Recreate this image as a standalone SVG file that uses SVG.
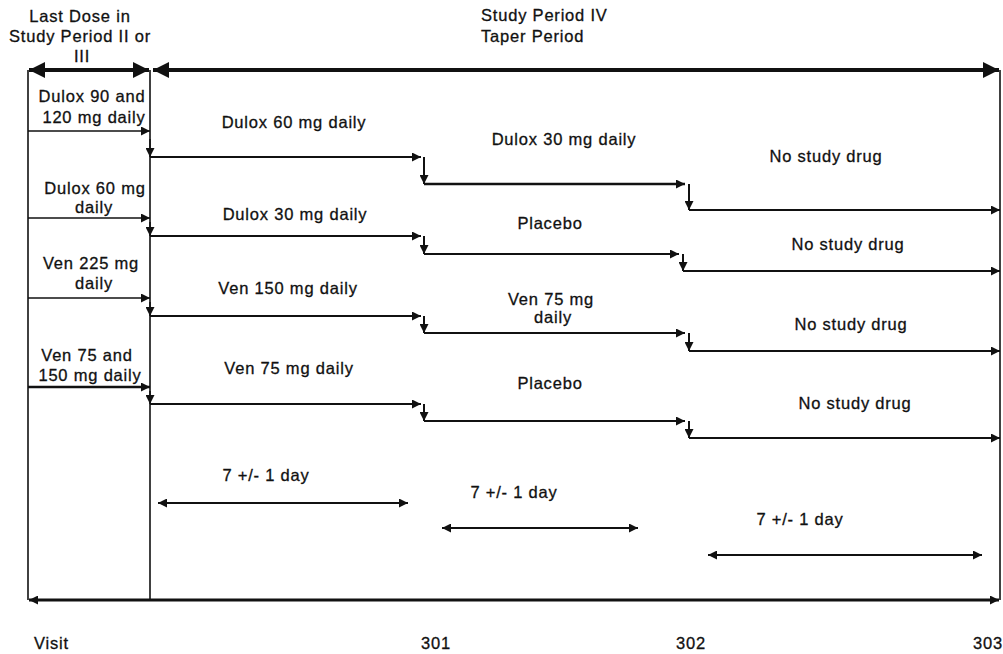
<svg xmlns="http://www.w3.org/2000/svg" width="1003" height="654" viewBox="0 0 1003 654">
<style>
text{font-family:"Liberation Sans",Arial,sans-serif;font-size:16.5px;letter-spacing:0.8px;fill:#111;stroke:#111;stroke-width:0.3px;text-anchor:middle}
.st{text-anchor:start}
.fr{stroke:#111;stroke-width:1.6;fill:none}
.ln{stroke:#111;stroke-width:2;fill:none}
.lt{stroke:#111;stroke-width:1.5;fill:none}
.tk{stroke:#111;stroke-width:4;fill:none}
.a{marker-end:url(#ah)}
.aa{marker-start:url(#ah);marker-end:url(#ah)}
.big{marker-start:url(#ahL);marker-end:url(#ahL)}
</style>
<defs>
<marker id="ah" viewBox="0 0 10 10" refX="10" refY="5" markerWidth="11" markerHeight="9" markerUnits="userSpaceOnUse" orient="auto-start-reverse"><path d="M0,0 L10,5 L0,10 z" fill="#111"/></marker>
<marker id="ahL" viewBox="0 0 10 10" refX="10" refY="5" markerWidth="18" markerHeight="16" markerUnits="userSpaceOnUse" orient="auto-start-reverse"><path d="M0,0 L10,5 L0,10 z" fill="#111"/></marker>
</defs>
<rect width="1003" height="654" fill="#fff"/>

<g id="connectors">
<path class="fr" d="M28,70 V600"/>
<path class="fr" d="M150,70 V600"/>
<path class="fr" d="M1000,70 V600"/>
<path class="tk big" d="M29,70 H149"/>
<path class="tk big" d="M153,70 H999"/>
<path class="ln aa" d="M29,600 H999" style="stroke-width:2.8"/>
<path class="lt a" d="M28,131 H150"/>
<path class="lt a" d="M28,218 H150"/>
<path class="lt a" d="M28,298 H150"/>
<path class="ln a" d="M28,387 H150" style="stroke-width:2.5"/>
<path class="lt a" d="M150,139 V157"/>
<path class="ln a" d="M150,157 H421"/>
<path class="ln a" d="M424,157 V184"/>
<path class="ln a" d="M424,184 H685" style="stroke-width:2.5"/>
<path class="ln a" d="M689,184 V210"/>
<path class="ln a" d="M689,210 H1000"/>
<path class="lt a" d="M150,222 V236"/>
<path class="ln a" d="M150,236 H421"/>
<path class="ln a" d="M424,236 V254"/>
<path class="ln a" d="M424,254 H679"/>
<path class="ln a" d="M683,254 V271"/>
<path class="ln a" d="M683,271 H1000"/>
<path class="lt a" d="M150,302 V316"/>
<path class="ln a" d="M150,316 H421"/>
<path class="ln a" d="M424,316 V333"/>
<path class="ln a" d="M424,333 H685"/>
<path class="ln a" d="M689,333 V351"/>
<path class="ln a" d="M689,351 H1000"/>
<path class="lt a" d="M150,391 V404"/>
<path class="ln a" d="M150,404 H421"/>
<path class="ln a" d="M424,404 V421"/>
<path class="ln a" d="M424,421 H685"/>
<path class="ln a" d="M689,421 V438"/>
<path class="ln a" d="M689,438 H1000"/>
<path class="ln aa" d="M158,503 H408"/>
<path class="ln aa" d="M442,528 H638"/>
<path class="ln aa" d="M708,555 H982"/>
</g>

<g id="header-left">
<text x="80" y="22">Last Dose in</text>
<text x="80" y="42">Study Period II or</text>
<text x="82" y="62">III</text>
</g>
<g id="header-right">
<text class="st" x="481" y="21">Study Period IV</text>
<text class="st" x="481" y="42">Taper Period</text>
</g>

<g id="prior-dulox-90-120">
<text x="92" y="102">Dulox 90 and</text>
<text x="94" y="123">120 mg daily</text>
</g>
<g id="prior-dulox-60">
<text x="95" y="194">Dulox 60 mg</text>
<text x="94" y="213">daily</text>
</g>
<g id="prior-ven-225">
<text x="91" y="269">Ven 225 mg</text>
<text x="94" y="289">daily</text>
</g>
<g id="prior-ven-75-150">
<text x="87" y="361">Ven 75 and</text>
<text x="90" y="381">150 mg daily</text>
</g>

<g id="row1">
<text x="294" y="128">Dulox 60 mg daily</text>
<text x="564" y="145">Dulox 30 mg daily</text>
<text x="826" y="162">No study drug</text>
</g>
<g id="row2">
<text x="295" y="220">Dulox 30 mg daily</text>
<text x="550" y="229">Placebo</text>
<text x="848" y="250">No study drug</text>
</g>
<g id="row3">
<text x="288" y="294">Ven 150 mg daily</text>
<text x="551" y="305">Ven 75 mg</text>
<text x="553" y="323">daily</text>
<text x="851" y="330">No study drug</text>
</g>
<g id="row4">
<text x="289" y="374">Ven 75 mg daily</text>
<text x="550" y="389">Placebo</text>
<text x="855" y="409">No study drug</text>
</g>

<g id="durations">
<text x="266" y="481">7 +/- 1 day</text>
<text x="514" y="498">7 +/- 1 day</text>
<text x="800" y="525">7 +/- 1 day</text>
</g>

<g id="visits">
<text class="st" x="34" y="649">Visit</text>
<text x="436" y="649">301</text>
<text x="691" y="649">302</text>
<text x="988" y="649">303</text>
</g>
</svg>
